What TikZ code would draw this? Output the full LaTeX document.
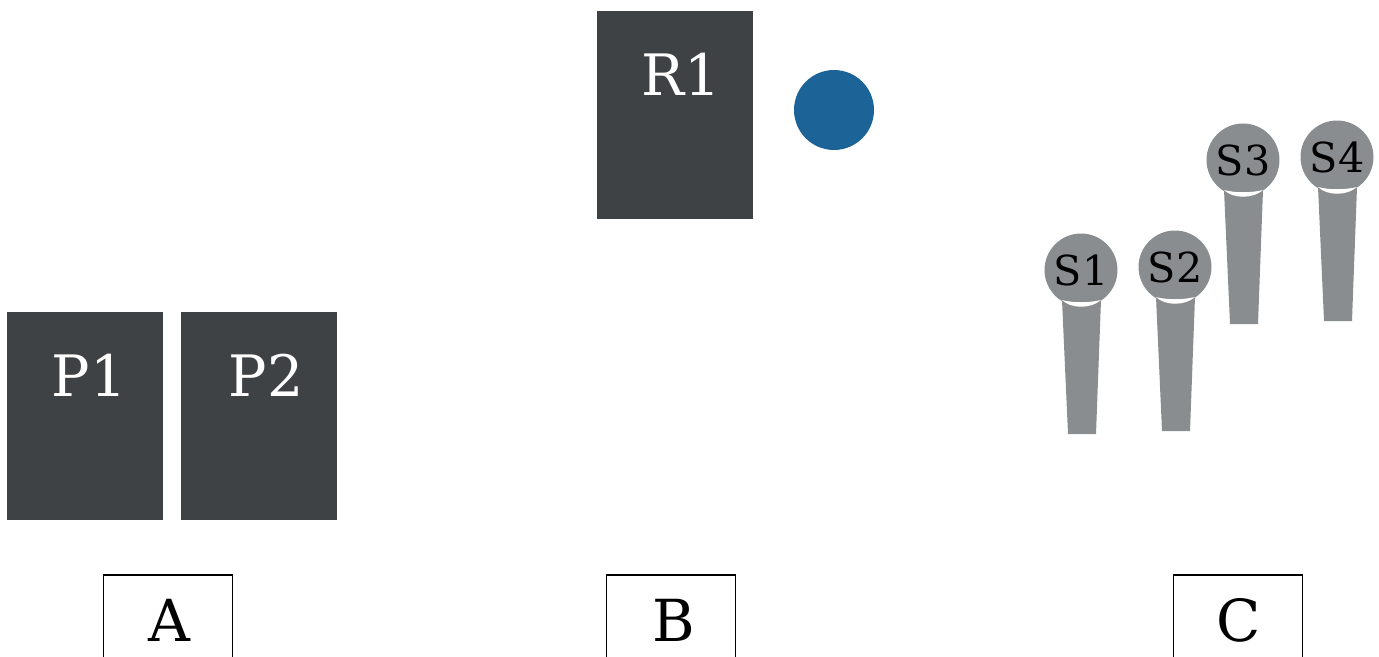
\documentclass[tikz,border=0pt]{standalone}
\usepackage{tikz}
\usepackage{fontspec}
\setmainfont{DejaVu Serif}
\usetikzlibrary{shapes,positioning}
\definecolor{padfill}{RGB}{63,66,69}
\definecolor{micfill}{RGB}{138,141,143}
\definecolor{dotfill}{RGB}{28,100,151}
\tikzstyle{padbox}=[rectangle, fill=padfill, inner sep=0pt, minimum height=4.16cm, minimum width=3.12cm]
\tikzstyle{padtext}=[text=white, inner sep=0pt, font=\fontsize{32.5}{38}\selectfont]
\tikzstyle{markbox}=[rectangle, draw, line width=0.6pt, inner sep=0pt, minimum height=2.6cm, minimum width=2.58cm]
\tikzstyle{marktext}=[inner sep=0pt, font=\fontsize{33}{40}\selectfont]
\tikzstyle{michead}=[circle, fill=micfill, inner sep=0pt, minimum size=1.46cm]
\tikzstyle{mictext}=[inner sep=0pt, font=\fontsize{23.5}{28}\selectfont]
\newcommand{\padbox}[4]{
	\node[padbox] (#1) at (#2) {};
	\node[padtext] (#1t) at (#3) {#4};}
\newcommand{\markbox}[4]{
	\node[markbox] (#1) at (#2) {};
	\node[marktext] (#1t) at (#3) {#4};}
\newcommand{\micstand}[3]{
	\node[michead] (#1) at (#2) {};
	\fill[micfill, shift={(#2)}] (-19,30) -- (20,30) -- (15,164) -- (-13,164) -- cycle;
	\fill[white, shift={(#2)}] (-19,30) .. controls (-8,33) and (8,33) .. (20,30) .. controls (10,39) and (-10,39) .. cycle;
	\node[mictext] (#1t) at (#2) {#3};}

\begin{document}
\begin{tikzpicture}[x=0.02cm, y=-0.02cm]
	\useasboundingbox (0,0) rectangle (1379,656);

	\padbox{p1}{85,416}{89,375}{P1}
	\padbox{p2}{259,416}{266,375}{P2}
	\padbox{r1}{675,115}{681,74}{R1}
	\node[circle, fill=dotfill, inner sep=0pt, minimum size=1.6cm] (dot) at (834,110) {};

	\micstand{s1}{1081,270}{S1}
	\micstand{s2}{1175,267}{S2}
	\micstand{s3}{1243,160}{S3}
	\micstand{s4}{1337,157}{S4}

	\markbox{a}{168,640}{169,620}{A}
	\markbox{b}{671,640}{674,620}{B}
	\markbox{c}{1238,640}{1239,620}{C}
\end{tikzpicture}
\end{document}
